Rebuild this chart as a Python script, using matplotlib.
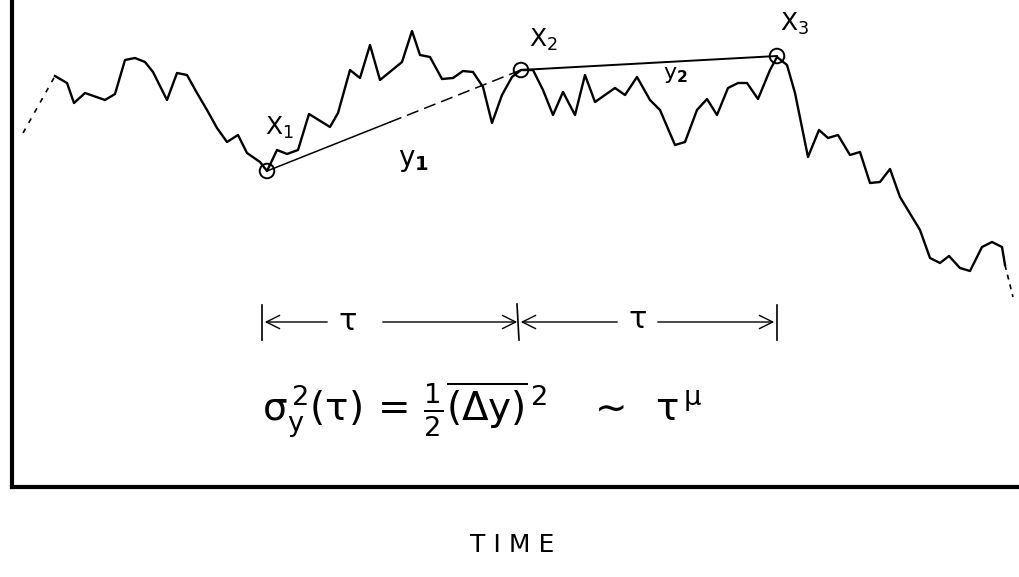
import numpy as np
import matplotlib.pyplot as plt

plt.rcParams['mathtext.default'] = 'regular'

# hand-drawn random walk (pixel coordinates)
walk_x = [55, 67, 74, 85, 105, 115, 125, 135, 145, 153, 167, 177, 187, 197, 207, 217, 227, 238, 247, 260, 267,
          277, 287, 298, 309, 330, 338, 350, 360, 370, 380, 402, 412, 420, 430, 442, 453, 463, 473, 483, 492,
          502, 512, 521, 533, 543, 553, 563, 575, 585, 595, 615, 625, 637, 650, 660, 675, 685, 697, 707, 717,
          728, 738, 747, 758, 770, 777, 787, 795, 808, 819, 828, 838, 850, 860, 870, 880, 890, 900, 920, 930,
          940, 949, 960, 970, 982, 992, 1002, 1005]
walk_y = [76, 83, 103, 93, 100, 94, 60, 58, 62, 72, 100, 73, 75, 93, 110, 128, 142, 135, 153, 162, 171,
          150, 154, 150, 114, 127, 113, 70, 78, 45, 80, 62, 31, 55, 57, 79, 78, 71, 72, 87, 123,
          95, 77, 70, 70, 90, 115, 92, 115, 75, 102, 88, 95, 77, 100, 110, 145, 142, 110, 99, 115,
          88, 83, 83, 99, 70, 57, 65, 93, 157, 130, 138, 135, 155, 152, 183, 182, 169, 197, 230, 258,
          263, 256, 268, 271, 247, 242, 247, 265]
lead_in_x = [23, 55]
lead_in_y = [133, 76]
lead_out_x = [1005, 1013]
lead_out_y = [265, 297]

# sample points x1, x2, x3
pts_x = [267, 521, 777]
pts_y = [171, 70, 56]
pt_labels = ['$X_1$', '$X_2$', '$X_3$']
pt_label_x = [279, 543, 795]
pt_label_y = [128, 40, 24]

fig = plt.figure(figsize=(10.19, 5.77), dpi=100)
ax = fig.add_axes([12 / 1019, 1 - 487 / 577, 1 - 12 / 1019, 487 / 577])
ax.set_xlim(12, 1019)
ax.set_ylim(487, 0)
for s in ['top', 'right']:
    ax.spines[s].set_visible(False)
ax.spines['left'].set_linewidth(3)
ax.spines['bottom'].set_linewidth(3)
ax.set_xticks([])
ax.set_yticks([])

ax.plot(walk_x, walk_y, color='black', lw=1.7)
ax.plot(lead_in_x, lead_in_y, color='black', lw=1.2, ls=(0, (3, 4)))
ax.plot(lead_out_x, lead_out_y, color='black', lw=1.2, ls=(0, (3, 3)))

# y1 and y2 chords
mid_x = 390
mid_y = pts_y[0] + (mid_x - pts_x[0]) * (pts_y[1] - pts_y[0]) / (pts_x[1] - pts_x[0])
ax.plot([pts_x[0], mid_x], [pts_y[0], mid_y], color='black', lw=1.1)
ax.plot([mid_x, pts_x[1]], [mid_y, pts_y[1]], color='black', lw=1.1, ls=(0, (8, 4)))
ax.plot(pts_x[1:], pts_y[1:], color='black', lw=1.4)

ax.scatter(pts_x, pts_y, s=110, facecolors='none', edgecolors='black', linewidths=1.4, zorder=3)
for lx, ly, lab in zip(pt_label_x, pt_label_y, pt_labels):
    ax.text(lx, ly, lab, fontsize=18, ha='center', va='center')
ax.text(413, 160, r'$y_{\mathbf{1}}$', fontsize=20, ha='center', va='center')
ax.text(675, 75, r'$y_{\mathbf{2}}$', fontsize=16, ha='center', va='center')

# tau interval arrows
ay = 322
arrow = dict(arrowstyle='->', color='black', lw=1.0, mutation_scale=24)
ax.plot([262, 262], [305, 340], color='black', lw=1.2)
ax.plot([777, 777], [305, 340], color='black', lw=1.2)
ax.plot([517, 519], [304, 340], color='black', lw=1.2)
ax.annotate('', xy=(262, ay), xytext=(330, ay), arrowprops=arrow)
ax.annotate('', xy=(520, ay), xytext=(380, ay), arrowprops=arrow)
ax.annotate('', xy=(518, ay), xytext=(620, ay), arrowprops=arrow)
ax.annotate('', xy=(777, ay), xytext=(655, ay), arrowprops=arrow)
ax.text(347, ay, r'$\tau$', fontsize=22, ha='center', va='center')
ax.text(637, ay - 2, r'$\tau$', fontsize=22, ha='center', va='center')

ax.text(262, 410, r'$\sigma_y^{\,2}(\tau)\,=\,\frac{1}{2}\overline{(\Delta y)}^{\,2}\quad\sim\;\;\tau^{\,\mu}$',
        fontsize=28, ha='left', va='center')

ax.text(512, 545, 'T I M E', fontsize=18, ha='center', va='center', clip_on=False)

fig.savefig('out.png', dpi=100)
